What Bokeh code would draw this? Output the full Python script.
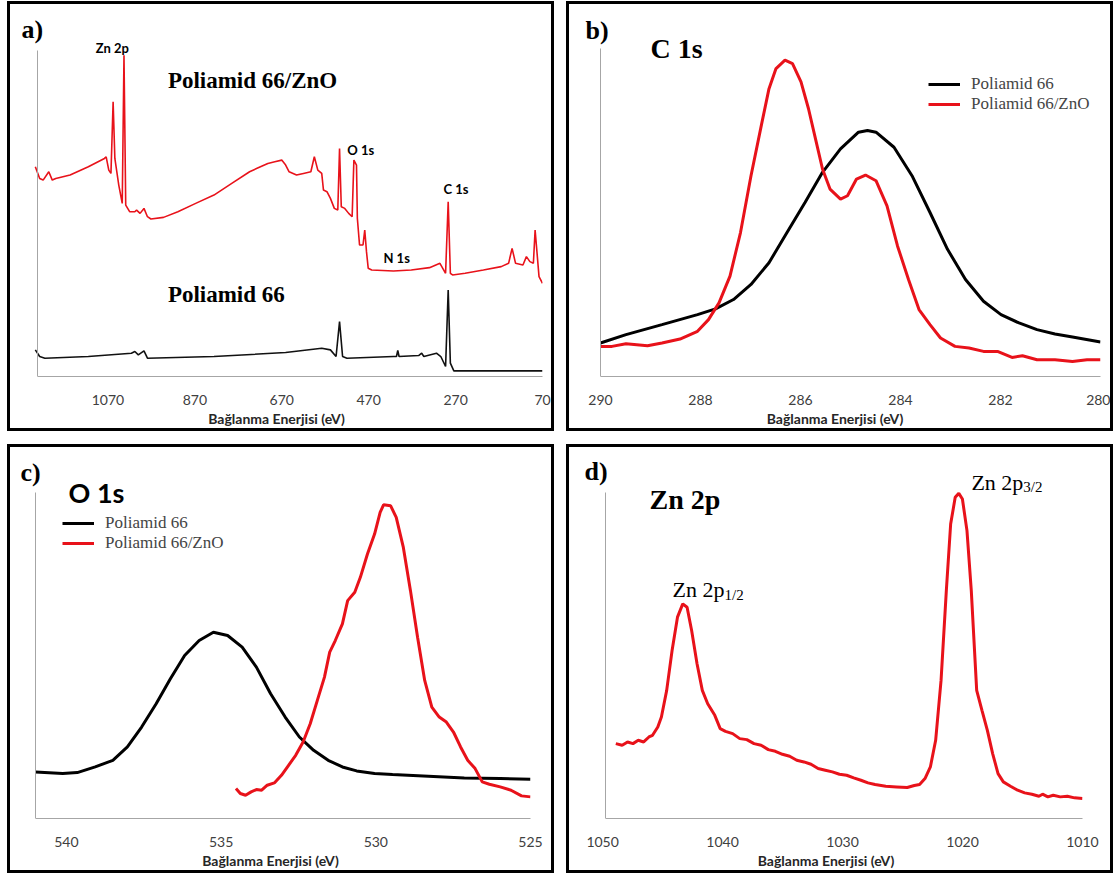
from bokeh.plotting import figure
from bokeh.models import Range1d, FixedTicker, Label, Legend, LegendItem
from bokeh.layouts import row, column
from bokeh.embed import file_html
from bokeh.resources import INLINE

# ---------------- data ----------------
# a) survey spectra
survey_zno_e = [1237, 1227, 1219, 1206, 1198, 1190, 1157, 1115, 1078, 1074, 1068, 1063, 1058, 1054,
                1045, 1037, 1033, 1029, 1020, 1008, 1004, 996, 987, 979, 971, 942, 909, 868, 826,
                785, 744, 719, 702, 686, 670, 661, 653, 636, 620, 603, 595, 587, 578, 574, 566, 558,
                549, 541, 537, 533, 525, 516, 508, 504, 498, 496, 491, 483, 479, 475, 471, 463, 413,
                372, 330, 306, 293, 287, 282, 277, 248, 206, 165, 148, 140, 132, 115, 107, 99, 91,
                87, 78, 70]
survey_zno_i = [630, 595, 590, 615, 590, 595, 605, 630, 655, 660, 620, 610, 825, 655,
                575, 520, 965, 515, 495, 495, 500, 490, 505, 480, 473, 478, 495, 520, 545,
                580, 615, 630, 640, 645, 650, 635, 615, 605, 610, 615, 660, 620, 610, 560, 555, 535,
                505, 500, 685, 510, 505, 490, 480, 650, 635, 475, 395, 395, 440, 375, 325, 320, 317,
                320, 327, 340, 310, 525, 310, 305, 310, 320, 330, 340, 385, 340, 335, 360, 345, 340,
                440, 300, 280]
survey_pa_e = [1237, 1227, 1215, 1115, 1016, 1008, 1000, 987, 979, 826, 661, 578, 558, 545, 537,
               530, 520, 413, 406, 403, 400, 355, 348, 343, 314, 304, 293, 287, 282, 274, 70]
survey_pa_i = [80, 60, 55, 60, 70, 75, 65, 77, 55, 60, 72, 85, 80, 60, 165,
               60, 55, 60, 60, 78, 60, 63, 70, 60, 70, 60, 30, 260, 40, 17, 17]
survey_ticks = [1070, 870, 670, 470, 270, 70]

# b) C 1s
c1s_pa_e = [290.0, 289.49, 288.77, 288.06, 287.7, 287.34, 286.99, 286.63, 286.27, 285.91, 285.56,
            285.2, 284.84, 284.66, 284.49, 284.13, 283.77, 283.41, 283.06, 282.7, 282.34, 281.99,
            281.63, 281.27, 280.91, 280.56, 280.0]
c1s_pa_i = [100, 125, 155, 185, 202, 230, 275, 340, 430, 520, 610,
            680, 730, 735, 730, 685, 600, 490, 380, 290, 225, 185,
            160, 140, 127, 118, 103]
c1s_zno_e = [290.0, 289.77, 289.49, 289.06, 288.77, 288.41, 288.06, 287.84, 287.63, 287.41, 287.2,
             286.99, 286.77, 286.63, 286.49, 286.31, 286.16, 285.99, 285.84, 285.7, 285.56, 285.41,
             285.2, 285.06, 284.88, 284.7, 284.49, 284.27, 284.06, 283.84, 283.63, 283.41, 283.2,
             282.91, 282.63, 282.34, 282.06, 281.77, 281.56, 281.27, 280.91, 280.56, 280.27, 280.0]
c1s_zno_i = [90, 90, 98, 92, 100, 112, 135, 170, 220, 300, 430,
             600, 760, 860, 920, 945, 935, 880, 800, 710, 620, 560,
             530, 540, 590, 602, 585, 510, 390, 290, 200, 155, 115,
             90, 85, 75, 75, 57, 62, 50, 50, 45, 50, 50]
c1s_ticks = [290, 288, 286, 284, 282, 280]

# c) O 1s
o1s_pa_e = [541.0, 540.12, 539.65, 539.07, 538.5, 538.03, 537.57, 537.1, 536.64, 536.18, 535.71,
            535.25, 534.79, 534.32, 533.86, 533.4, 532.93, 532.47, 532.01, 531.54, 531.08, 530.62,
            530.04, 529.46, 528.3, 527.14, 525.98, 525.0]
o1s_pa_i = [140, 135, 138, 155, 175, 215, 275, 345, 420, 490, 535,
            560, 550, 515, 455, 375, 305, 245, 205, 175, 155, 143,
            135, 132, 127, 122, 120, 118]
o1s_zno_e = [534.52, 534.38, 534.21, 534.03, 533.86, 533.69, 533.51, 533.28, 533.05, 532.82, 532.59,
             532.35, 532.12, 531.89, 531.66, 531.49, 531.31, 531.08, 530.91, 530.68, 530.5, 530.27,
             530.04, 529.86, 529.75, 529.52, 529.34, 529.11, 528.88, 528.65, 528.42, 528.19, 527.95,
             527.72, 527.49, 527.26, 527.03, 526.79, 526.56, 526.33, 525.98, 525.63, 525.29, 525.0]
o1s_zno_i = [90, 75, 70, 80, 87, 85, 100, 107, 130, 160, 190,
             230, 285, 355, 425, 500, 535, 585, 655, 680, 725, 795,
             855, 920, 943, 940, 905, 815, 685, 545, 415, 335, 305,
             290, 260, 215, 175, 150, 110, 103, 95, 85, 68, 65]
o1s_ticks = [540, 535, 530, 525]

# d) Zn 2p
zn_e = [1048.9, 1048.37, 1047.92, 1047.47, 1047.03, 1046.58, 1046.14, 1045.84, 1045.4, 1045.1,
        1044.66, 1044.21, 1043.76, 1043.32, 1042.96, 1042.58, 1042.13, 1041.69, 1041.24, 1040.65,
        1040.2, 1039.76, 1039.16, 1038.57, 1037.98, 1037.38, 1036.79, 1036.19, 1035.6, 1035.01,
        1034.41, 1033.82, 1033.22, 1032.63, 1032.04, 1031.44, 1030.85, 1030.26, 1029.66, 1029.07,
        1028.47, 1027.88, 1027.29, 1026.4, 1025.5, 1024.61, 1024.02, 1023.58, 1023.13, 1022.68,
        1022.24, 1021.79, 1021.35, 1020.99, 1020.61, 1020.31, 1020.01, 1019.63, 1019.27, 1018.82,
        1018.38, 1017.93, 1017.49, 1017.04, 1016.6, 1016.0, 1015.41, 1014.82, 1014.22, 1013.63,
        1013.33, 1012.89, 1012.44, 1011.85, 1011.26, 1010.66, 1010.0]
zn_i = [225, 220, 230, 225, 235, 230, 245, 250, 275, 305,
        385, 505, 605, 645, 635, 565, 465, 385, 345, 310,
        270, 262, 255, 240, 237, 225, 220, 207, 202, 193,
        187, 175, 170, 163, 150, 145, 140, 133, 130, 122,
        115, 107, 102, 97, 95, 93, 99, 102, 120, 155,
        235, 415, 685, 885, 965, 977, 960, 865, 685, 385,
        325, 265, 195, 135, 110, 97, 85, 77, 73, 67,
        73, 65, 70, 65, 67, 62, 60]
zn_ticks = [1050, 1040, 1030, 1020, 1010]

XLABEL = "Bağlanma Enerjisi (eV)"
LEGEND_LABELS = ["Poliamid 66", "Poliamid 66/ZnO"]

# ---------------- style ----------------
RED = "#e8121a"
BLACK = "#000000"
AXIS_GRAY = "#a6a6a6"
TICK_COLOR = "#404040"
LABEL_COLOR = "#262626"
SANS = "Lato"
SERIF = "Liberation Serif"
YTOP = 980   # top of the plotted intensity axis (arbitrary units)
BORDER = 3   # panel frame line width (css border); bokeh sizes its canvas to the border box


def make_panel(x0, x1, ticks, width, height, lead_px, right_px, axis_px, top_px):
    """x0/x1: energy at the y axis / right end; lead_px: space left of the y axis;
    axis_px: distance of the x axis from the canvas top; top_px: top of the y axis."""
    fw = width - right_px
    x_start = x0 + lead_px * (x0 - x1) / (fw - lead_px)
    y_top = YTOP + top_px * YTOP / (axis_px - top_px)
    extra = 2 * BORDER
    p = figure(width=width, height=height, output_backend="svg", toolbar_location=None,
               x_range=Range1d(x_start, x1), y_range=Range1d(0, y_top),
               min_border_left=0, min_border_right=right_px + extra, min_border_top=0,
               min_border_bottom=height - axis_px + extra,
               background_fill_color="white", border_fill_color="white",
               styles={"border": f"{BORDER}px solid black", "box-sizing": "content-box"})
    p.outline_line_color = None
    p.grid.visible = False
    xa = p.xaxis[0]
    xa.ticker = FixedTicker(ticks=ticks)
    xa.bounds = (min(x0, x1), max(x0, x1))
    xa.axis_label = XLABEL
    xa.axis_label_text_font = SANS
    xa.axis_label_text_font_style = "bold"
    xa.axis_label_text_font_size = "14px"
    xa.axis_label_text_color = LABEL_COLOR
    xa.axis_label_standoff = 2
    xa.major_label_text_font = SANS
    xa.major_label_text_font_size = "14px"
    xa.major_label_text_color = TICK_COLOR
    xa.major_label_standoff = 12
    xa.axis_line_color = AXIS_GRAY
    xa.major_tick_line_color = None
    xa.minor_tick_line_color = None
    ya = p.yaxis[0]
    ya.ticker = FixedTicker(ticks=[])
    ya.fixed_location = x0
    ya.bounds = (0, YTOP)
    ya.axis_line_color = AXIS_GRAY
    ya.major_tick_line_color = None
    ya.minor_tick_line_color = None
    ya.major_label_text_font_size = "0px"
    return p


def add_text(p, x, y, text, font, size, style="bold", units="data", align="left",
             baseline="middle", color="#000000"):
    p.add_layout(Label(x=x, y=y, x_units=units, y_units=units, text=text,
                       text_font=font, text_font_size=size, text_font_style=style,
                       text_align=align, text_baseline=baseline, text_color=color))


def add_legend(p, renderers, loc):
    items = [LegendItem(label=lab, renderers=[r]) for lab, r in zip(LEGEND_LABELS, renderers)]
    lg = Legend(items=items, location=loc, label_text_font=SERIF, label_text_font_size="17px",
                glyph_width=32, glyph_height=20, label_height=20, label_standoff=11, spacing=0,
                padding=0, margin=0, border_line_color=None, background_fill_alpha=0)
    p.add_layout(lg)


# ---- a) survey ----
pa = make_panel(1232, 70, survey_ticks, 541, 424, 27, 9, 374, 46)
pa.line(survey_zno_e, survey_zno_i, line_color=RED, line_width=1.6)
pa.line(survey_pa_e, survey_pa_i, line_color="#111111", line_width=1.6)
add_text(pa, 11, 347, "a)", SERIF, "26px", units="screen")
add_text(pa, 1060, 987, "Zn 2p", SANS, "13px", align="center")
add_text(pa, 932, 890, "Poliamid 66/ZnO", SERIF, "23px")
add_text(pa, 519, 680, "O 1s", SANS, "13px")
add_text(pa, 298, 562, "C 1s", SANS, "13px")
add_text(pa, 436, 357, "N 1s", SANS, "13px")
add_text(pa, 932, 245, "Poliamid 66", SERIF, "23px")

# ---- b) C 1s ----
pb = make_panel(290, 280, c1s_ticks, 541, 424, 31, 10, 372, 44)
rb1 = pb.line(c1s_pa_e, c1s_pa_i, line_color=BLACK, line_width=3)
rb2 = pb.line(c1s_zno_e, c1s_zno_i, line_color=RED, line_width=3)
add_text(pb, 16, 346, "b)", SERIF, "26px", units="screen")
add_text(pb, 81, 328, "C 1s", SERIF, "28px", units="screen")
add_legend(pb, [rb1, rb2], (359, 262))

# ---- c) O 1s ----
pc = make_panel(541, 525, o1s_ticks, 541, 423, 25, 21, 371, 45)
rc1 = pc.line(o1s_pa_e, o1s_pa_i, line_color=BLACK, line_width=3)
rc2 = pc.line(o1s_zno_e, o1s_zno_i, line_color=RED, line_width=3)
add_text(pc, 10, 346, "c)", SERIF, "26px", units="screen")
add_text(pc, 58, 326, "O 1s", SANS, "27px", units="screen")
add_legend(pc, [rc1, rc2], (52, 265))

# ---- d) Zn 2p ----
pd_ = make_panel(1049.76, 1010, zn_ticks, 541, 423, 36, 28, 372, 45)
pd_.line(zn_e, zn_i, line_color=RED, line_width=3)
add_text(pd_, 15, 347, "d)", SERIF, "26px", units="screen")
add_text(pd_, 80, 319, "Zn 2p", SERIF, "28px", units="screen")
add_text(pd_, 1019.26, 1011, "Zn 2p", SERIF, "22px", style="normal", baseline="alphabetic")
add_text(pd_, 1014.93, 996, "3/2", SERIF, "15px", style="normal", baseline="alphabetic")
add_text(pd_, 1044.18, 687, "Zn 2p", SERIF, "22px", style="normal", baseline="alphabetic")
add_text(pd_, 1039.84, 672, "1/2", SERIF, "15px", style="normal", baseline="alphabetic")

layout = column(row(pa, pb, spacing=12), row(pc, pd_, spacing=12), spacing=13,
                styles={"margin-left": "7px", "margin-top": "1px"})

with open("out.html", "w") as f:
    f.write(file_html(layout, INLINE))
